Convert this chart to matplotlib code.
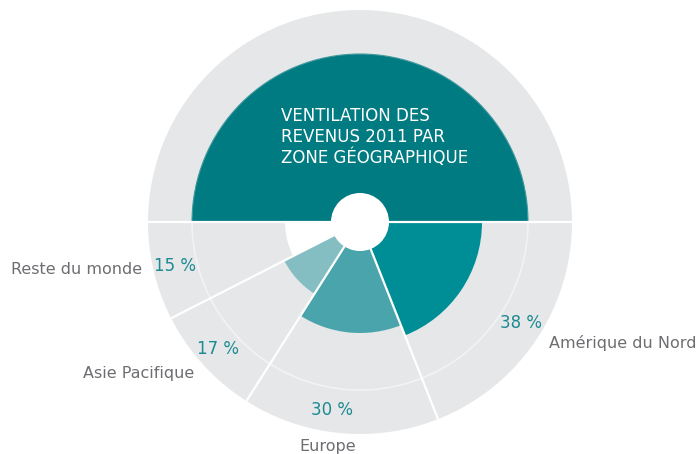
import matplotlib
matplotlib.use("Agg")
import matplotlib.pyplot as plt
from matplotlib.patches import Wedge, Circle, Arc
import numpy as np

plt.rcParams['font.family'] = ['DejaVu Sans']

# Data
regions = ['Amérique du Nord', 'Europe', 'Asie Pacifique', 'Reste du monde']
shares = [38, 30, 17, 15]
title_text = 'VENTILATION DES\nREVENUS 2011 PAR\nZONE GÉOGRAPHIQUE'

# Styling
wedge_colors = ['#008e96', '#49a5ab', '#84bec3', '#ffffff']
wedge_radius = [122, 111, 85, 75]
pct_shift = [-2, 3, 0.5, 0]       # degrees, nudge labels off the exact mid-angle
name_shift = [-2, 3, 0.5, 1.5]
gray = '#e6e7e8'
dark_teal = '#007b81'
pct_color = '#1b8a92'
name_color = '#6d6e71'

cx, cy = 360, 222
r_outer, r_mid, r_hole = 212, 168, 29

fig = plt.figure(figsize=(6.97, 4.54), dpi=100)
ax = fig.add_axes([0, 0, 1, 1])
ax.set_xlim(0, 697)
ax.set_ylim(454, 0)
ax.set_aspect('equal')
ax.axis('off')

# background disc and top half
ax.add_patch(Circle((cx, cy), r_outer, color=gray, lw=0))
ax.add_patch(Wedge((cx, cy), r_mid, 180, 360, facecolor=dark_teal,
                   edgecolor='#3f9aa0', lw=0.8))
ax.add_patch(Arc((cx, cy), 2 * r_mid, 2 * r_mid, theta1=0, theta2=180,
                 color='#f3f3f4', lw=1.2))

# bottom half: angles proportional to share
angles = np.concatenate([[0], np.cumsum(shares) / sum(shares) * 180])
for i, (name, val) in enumerate(zip(regions, shares)):
    a0, a1 = angles[i], angles[i + 1]
    ax.add_patch(Wedge((cx, cy), wedge_radius[i], a0, a1,
                       facecolor=wedge_colors[i], lw=0))
    mid = (a0 + a1) / 2
    t = np.radians(mid + pct_shift[i])
    ax.text(cx + 190 * np.cos(t), cy + 190 * np.sin(t), f'{val} %',
            color=pct_color, fontsize=12, ha='center', va='center')
    t = np.radians(mid + name_shift[i])
    nx, ny = cx + 223 * np.cos(t), cy + 227 * np.sin(t)
    c = np.cos(t)
    ha = 'left' if c > 0.3 else ('right' if c < -0.3 else 'center')
    ax.text(nx, ny, name, color=name_color, fontsize=11.5, ha=ha, va='center')

# white separators
for a in angles:
    t = np.radians(a)
    ax.plot([cx, cx + r_outer * np.cos(t)], [cy, cy + r_outer * np.sin(t)],
            color='white', lw=1.6, solid_capstyle='butt')

ax.add_patch(Circle((cx, cy), r_hole, color='white', lw=0))

ax.text(281, 107, title_text, color='white', fontsize=12, ha='left',
        va='top', linespacing=1.2)

fig.savefig('out.png', dpi=100)
